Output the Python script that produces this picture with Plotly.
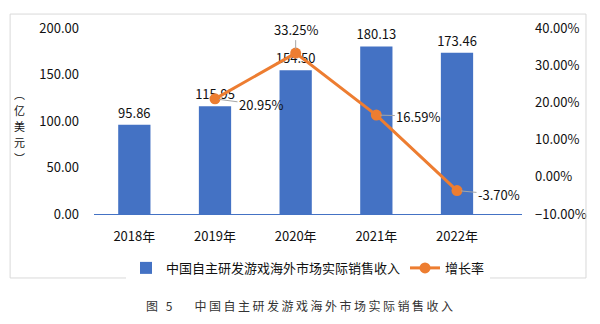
import plotly.graph_objects as go

# 中国自主研发游戏海外市场实际销售收入（亿美元）及增长率
years = ["2018年", "2019年", "2020年", "2021年", "2022年"]
revenue = [95.86, 115.95, 154.50, 180.13, 173.46]
growth = [None, 20.95, 33.25, 16.59, -3.70]
y_title_chars = ["︵", "亿", "美", "元", "︶"]

bar_color = "#4472C4"
line_color = "#ED7D31"
font_family = "Noto Sans CJK SC, Noto Sans, sans-serif"

fig = go.Figure()

fig.add_trace(go.Bar(
    x=years, y=revenue, name="中国自主研发游戏海外市场实际销售收入",
    marker=dict(color=bar_color, line=dict(width=0)),
    width=0.4,
    text=[f"{v:.2f}" for v in revenue], textposition="outside",
    constraintext="none",
    textfont=dict(size=13, color="#111111"), cliponaxis=False,
))

fig.add_trace(go.Scatter(
    x=years[1:], y=growth[1:], name="增长率", yaxis="y2",
    mode="lines+markers",
    line=dict(color=line_color, width=3),
    marker=dict(color=line_color, size=11),
    cliponaxis=False,
))

# 增长率数据标签（带引导线）
offsets = {1: (46, 6), 2: (0, -24), 3: (42, 1), 4: (42, 4)}
for i, (ax, ay) in offsets.items():
    fig.add_annotation(
        x=years[i], y=growth[i], xref="x", yref="y2",
        text=f"{growth[i]:.2f}%", showarrow=True, arrowhead=0,
        arrowcolor="#A6A6A6", arrowwidth=1, ax=ax, ay=ay,
        font=dict(size=13, color="#111111"), standoff=4,
    )

# 纵轴标题（竖排，逐字放置）
plot_h = 186
for k, ch in enumerate(y_title_chars):
    py = 94 + 16 * k
    fig.add_annotation(
        x=(19 - 94) / 428, y=(214 - py) / plot_h, xref="paper", yref="paper",
        text=ch, showarrow=False, font=dict(size=11, color="#111111"),
        xanchor="center", yanchor="middle",
    )

# 图题
fig.add_annotation(
    x=0.483, y=-0.49, xref="paper", yref="paper", xanchor="center", yanchor="middle",
    text='<span style="letter-spacing:2.5px">图 5 　中国自主研发游戏海外市场实际销售收入</span>',
    showarrow=False, font=dict(size=12, color="#333333"),
)

# 图表外框
fig.add_shape(type="rect", xref="paper", yref="paper",
              x0=-0.196, x1=1.1495, y0=-0.344, y1=1.075,
              line=dict(color="#D9D9D9", width=1))

fig.update_layout(
    width=600, height=324,
    margin=dict(l=94, r=78, t=28, b=110),
    paper_bgcolor="white", plot_bgcolor="white",
    font=dict(family=font_family, size=13, color="#111111"),
    showlegend=True,
    legend=dict(orientation="h", x=0.5, xanchor="center", y=-0.29, yanchor="middle",
                font=dict(size=13), itemwidth=30, traceorder="normal"),
    bargap=0.6,
    xaxis=dict(showline=True, linecolor=bar_color, linewidth=1, showgrid=False,
               ticks="", tickfont=dict(size=13), ticklabelstandoff=10),
    yaxis=dict(range=[0, 200], dtick=50, tickformat=".2f", showgrid=False,
               zeroline=False, showline=False, ticks="", ticklabelstandoff=14,
               tickfont=dict(size=13)),
    yaxis2=dict(range=[-10, 40], dtick=10, overlaying="y", side="right",
                ticksuffix="%", tickformat=".2f", showgrid=False, zeroline=False,
                showline=False, ticks="", ticklabelstandoff=12,
                tickfont=dict(size=13)),
)

fig.write_html("out.html")
